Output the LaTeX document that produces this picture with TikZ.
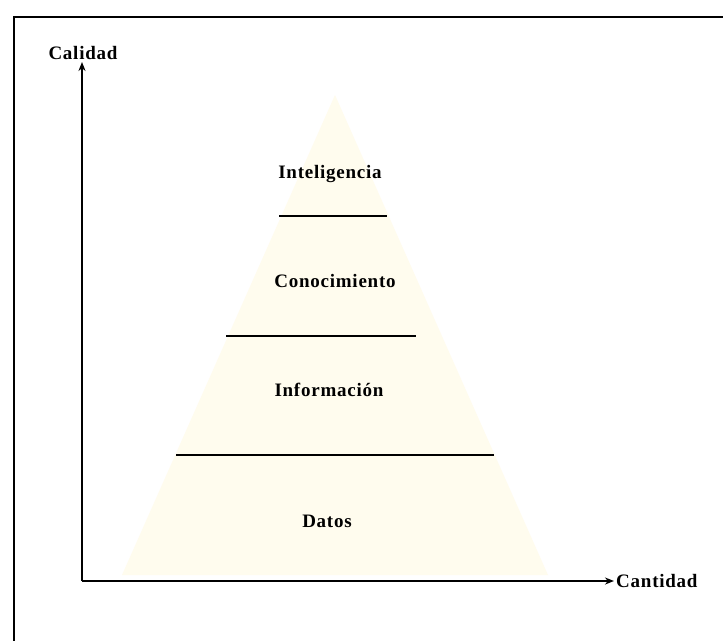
\documentclass[tikz,border=0pt]{standalone}
\usepackage{fontspec}
\setmainfont{Liberation Serif}
\usetikzlibrary{arrows.meta}
\definecolor{pyrfill}{RGB}{255,252,238}
\tikzset{
  lbl/.style={font=\fontsize{19}{21}\selectfont\bfseries\addfontfeatures{LetterSpace=4}, inner sep=0pt},
  axis/.style={line width=2pt, -{Stealth[length=9pt,width=7pt]}},
  sep/.style={line width=2pt},
}
\begin{document}
\begin{tikzpicture}[x=1pt,y=-1pt]
  \useasboundingbox (0,0) rectangle (723,640);
  \fill[white] (0,0) rectangle (723,640);
  % outer frame, running off the page on the right and at the bottom
  \begin{scope}
    \clip (0,0) rectangle (723,640);
    \draw[line width=2.5pt] (14,17) rectangle (760,680);
  \end{scope}
  % pyramid
  \fill[pyrfill] (335,95) -- (548,575) -- (122,575) -- cycle;
  % separators
  \coordinate (s1l) at (279,216); \coordinate (s1r) at (387,216);
  \coordinate (s2l) at (226,336); \coordinate (s2r) at (416,336);
  \coordinate (s3l) at (176,455); \coordinate (s3r) at (494,455);
  \draw[sep] (s1l) -- (s1r);
  \draw[sep] (s2l) -- (s2r);
  \draw[sep] (s3l) -- (s3r);
  % level labels
  \node[lbl] (intel) at (330,174) {Inteligencia};
  \node[lbl] (conoc) at (335,281) {Conocimiento};
  \node[lbl] (info)  at (329,390) {Información};
  \node[lbl] (datos) at (327,521) {Datos};
  % axes
  \coordinate (origin) at (82,581);
  \coordinate (ytip) at (82,62);
  \coordinate (xtip) at (614,581);
  \draw[axis] (origin) -- (ytip);
  \draw[axis] (origin) -- (xtip);
  \node[lbl, anchor=south] (calidad) at (83,60) {Calidad};
  \node[lbl, anchor=west] (cantidad) at (616,581) {Cantidad};
\end{tikzpicture}
\end{document}
